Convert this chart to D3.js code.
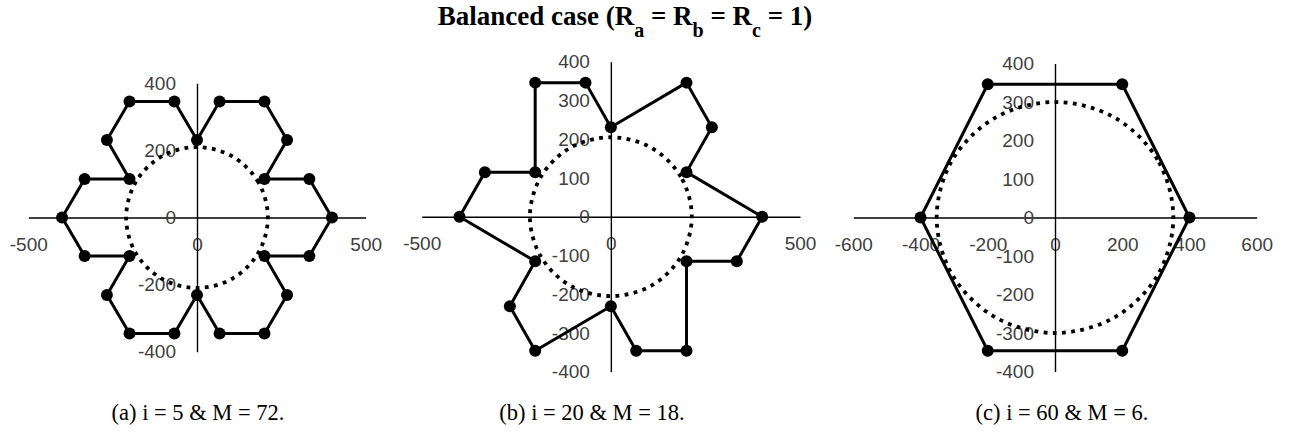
<!DOCTYPE html>
<html>
<head>
<meta charset="utf-8">
<script src="https://cdn.jsdelivr.net/npm/d3@7"></script>
<style>
  html, body { margin: 0; padding: 0; background: #fff; }
  svg { display: block; }
  .tick text { font-family: "Liberation Sans", Arial, sans-serif; font-size: 19px; fill: #404040; }
  .title { font-family: "Liberation Serif", "Times New Roman", serif; font-weight: bold; fill: #000; }
  .caption { font-family: "Liberation Serif", "Times New Roman", serif; font-size: 22.5px; fill: #000; }
</style>
</head>
<body>
<svg id="chart" width="1289" height="432"></svg>
<script>
// Space-vector trajectories (vertex coordinates, closed polygons)
const trajectoryA = [
  [-200, 346], [-67, 346], [0, 231], [67, 346], [200, 346], [267, 231],
  [200, 115], [333, 115], [400, 0], [333, -115], [200, -115], [267, -231],
  [200, -346], [67, -346], [0, -231], [-67, -346], [-200, -346], [-267, -231],
  [-200, -115], [-333, -115], [-400, 0], [-333, 115], [-200, 115], [-267, 231]
];
const trajectoryB = [
  [-200, 346], [-67, 346], [0, 231], [200, 346], [267, 231], [200, 115],
  [400, 0], [333, -115], [200, -115], [200, -346], [67, -346], [0, -231],
  [-200, -346], [-267, -231], [-200, -115], [-400, 0], [-333, 115], [-200, 115]
];
const trajectoryC = [
  [200, 346], [400, 0], [200, -346], [-200, -346], [-400, 0], [-200, 346]
];

// Reference loci (dotted)
const locusA = [
  [210, 0], [182, 105], [105, 182], [0, 210], [-105, 182], [-182, 105],
  [-210, 0], [-182, -105], [-105, -182], [0, -210], [105, -182], [182, -105]
];
const locusB = [
  [214, 0], [185, 103], [107, 178], [0, 205], [-107, 178], [-185, 103],
  [-214, 0], [-185, -103], [-107, -178], [0, -205], [107, -178], [185, -103]
];
const locusC = [
  [352, 0], [305, 150], [176, 260], [0, 300], [-176, 260], [-305, 150],
  [-352, 0], [-305, -150], [-176, -260], [0, -300], [176, -260], [305, -150]
];

// Axis tick values
const xTicksA = [-500, 0, 500];
const yTicksA = [-400, -200, 0, 200, 400];
const xTicksB = [-500, 0, 500];
const yTicksB = [-400, -300, -200, -100, 0, 100, 200, 300, 400];
const xTicksC = [-600, -400, -200, 0, 200, 400, 600];
const yTicksC = [-400, -300, -200, -100, 0, 100, 200, 300, 400];

const captions = ["(a) i = 5 & M = 72.", "(b) i = 20 & M = 18.", "(c) i = 60 & M = 6."];

const svg = d3.select("#chart");

const panels = [
  { path: trajectoryA, locus: locusA, xTicks: xTicksA, yTicks: yTicksA, caption: captions[0],
    xDomain: [-500, 500], xRange: [28.3, 365.7], yRange: [351.7, 83.3], capX: 198 },
  { path: trajectoryB, locus: locusB, xTicks: xTicksB, yTicks: yTicksB, caption: captions[1],
    xDomain: [-500, 500], xRange: [421.7, 800], yRange: [371.7, 61.7], capX: 592 },
  { path: trajectoryC, locus: locusC, xTicks: xTicksC, yTicks: yTicksC, caption: captions[2],
    xDomain: [-600, 600], xRange: [853.3, 1256.7], yRange: [371.5, 63.5], capX: 1062 }
];

const fmt = d => String(d);

panels.forEach(p => {
  const x = d3.scaleLinear().domain(p.xDomain).range(p.xRange);
  const y = d3.scaleLinear().domain([-400, 400]).range(p.yRange);
  const g = svg.append("g");

  // Axes crossing at the origin
  const gx = g.append("g")
    .attr("transform", `translate(0,${y(0)})`)
    .call(d3.axisBottom(x).tickValues(p.xTicks).tickFormat(fmt).tickSize(0).tickPadding(20));
  const gy = g.append("g")
    .attr("transform", `translate(${x(0)},0)`)
    .call(d3.axisLeft(y).tickValues(p.yTicks).tickFormat(fmt).tickSize(0).tickPadding(21));
  [gx, gy].forEach(a => {
    a.select(".domain").attr("stroke", "#000").attr("stroke-width", 1.4);
    a.selectAll("text").attr("font-family", null).attr("font-size", null);
  });

  // Dotted reference locus
  const ring = d3.line().x(d => x(d[0])).y(d => y(d[1])).curve(d3.curveCatmullRomClosed.alpha(0.5));
  g.append("path")
    .attr("d", ring(p.locus))
    .attr("fill", "none")
    .attr("stroke", "#000")
    .attr("stroke-width", 3.8)
    .attr("stroke-dasharray", "3.8,5.4");

  // Trajectory polygon with vertex markers
  const poly = d3.line().x(d => x(d[0])).y(d => y(d[1])).curve(d3.curveLinearClosed);
  g.append("path")
    .attr("d", poly(p.path))
    .attr("fill", "none")
    .attr("stroke", "#000")
    .attr("stroke-width", 3)
    .attr("stroke-linejoin", "round");
  g.selectAll("circle.v")
    .data(p.path)
    .join("circle")
    .attr("class", "v")
    .attr("cx", d => x(d[0]))
    .attr("cy", d => y(d[1]))
    .attr("r", 6)
    .attr("fill", "#000");

  svg.append("text")
    .attr("class", "caption")
    .attr("x", p.capX)
    .attr("y", 420)
    .attr("text-anchor", "middle")
    .text(p.caption);
});

// Title with subscripts
const title = svg.append("text")
  .attr("class", "title")
  .attr("x", 625)
  .attr("y", 25)
  .attr("text-anchor", "middle")
  .attr("font-size", 27);
const parts = [
  ["Balanced case (R", 0], ["a", 1], [" = R", 0], ["b", 1], [" = R", 0], ["c", 1], [" = 1)", 0]
];
let shifted = false;
parts.forEach(([t, sub]) => {
  const ts = title.append("tspan").text(t);
  if (sub) { ts.attr("font-size", 20).attr("dy", 11.5); shifted = true; }
  else if (shifted) { ts.attr("dy", -11.5); shifted = false; }
});
</script>
</body>
</html>
